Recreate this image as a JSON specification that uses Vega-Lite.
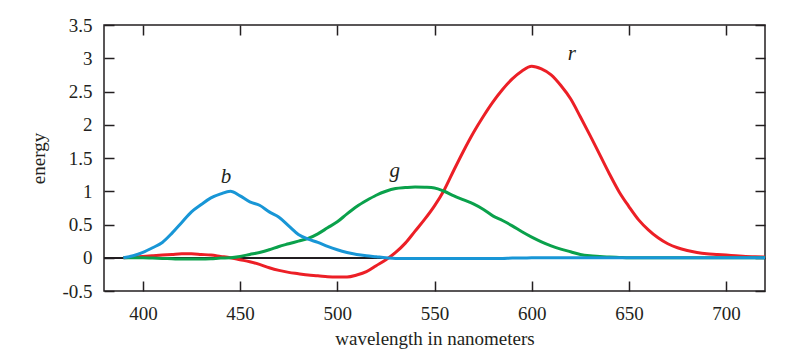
{
  "$schema": "https://vega.github.io/schema/vega-lite/v6.json",
  "width": 661,
  "height": 266,
  "autosize": "none",
  "padding": {"left": 104, "top": 25, "right": 43, "bottom": 69},
  "background": "white",
  "config": {
    "view": {"stroke": "#231f20", "strokeWidth": 1.5},
    "font": "Liberation Serif",
    "axis": {
      "labelFont": "Liberation Serif",
      "titleFont": "Liberation Serif",
      "labelFontSize": 19,
      "titleFontSize": 19,
      "titleFontWeight": "normal",
      "labelColor": "#231f20",
      "titleColor": "#231f20",
      "tickColor": "#231f20",
      "tickWidth": 1.5,
      "domain": false,
      "grid": false
    }
  },
  "datasets": {
    "curves": [
      {"w": 390, "r": 0.00, "g": 0.00, "b": 0.00},
      {"w": 395, "r": 0.01, "g": 0.00, "b": 0.03},
      {"w": 400, "r": 0.02, "g": 0.00, "b": 0.08},
      {"w": 405, "r": 0.03, "g": -0.005, "b": 0.15},
      {"w": 410, "r": 0.04, "g": -0.01, "b": 0.23},
      {"w": 415, "r": 0.05, "g": -0.015, "b": 0.37},
      {"w": 420, "r": 0.06, "g": -0.02, "b": 0.53},
      {"w": 425, "r": 0.06, "g": -0.02, "b": 0.69},
      {"w": 430, "r": 0.05, "g": -0.02, "b": 0.80},
      {"w": 435, "r": 0.04, "g": -0.015, "b": 0.90},
      {"w": 440, "r": 0.02, "g": -0.005, "b": 0.96},
      {"w": 445, "r": 0.00, "g": 0.00, "b": 1.00},
      {"w": 450, "r": -0.03, "g": 0.02, "b": 0.93},
      {"w": 455, "r": -0.06, "g": 0.05, "b": 0.84},
      {"w": 460, "r": -0.10, "g": 0.08, "b": 0.79},
      {"w": 465, "r": -0.15, "g": 0.12, "b": 0.69},
      {"w": 470, "r": -0.19, "g": 0.17, "b": 0.61},
      {"w": 475, "r": -0.22, "g": 0.21, "b": 0.48},
      {"w": 480, "r": -0.24, "g": 0.25, "b": 0.35},
      {"w": 485, "r": -0.26, "g": 0.29, "b": 0.28},
      {"w": 490, "r": -0.27, "g": 0.36, "b": 0.23},
      {"w": 495, "r": -0.285, "g": 0.45, "b": 0.17},
      {"w": 500, "r": -0.29, "g": 0.54, "b": 0.12},
      {"w": 505, "r": -0.29, "g": 0.66, "b": 0.08},
      {"w": 510, "r": -0.26, "g": 0.77, "b": 0.05},
      {"w": 515, "r": -0.21, "g": 0.86, "b": 0.03},
      {"w": 520, "r": -0.12, "g": 0.94, "b": 0.015},
      {"w": 525, "r": -0.03, "g": 1.00, "b": 0.00},
      {"w": 530, "r": 0.08, "g": 1.04, "b": -0.01},
      {"w": 535, "r": 0.22, "g": 1.055, "b": -0.01},
      {"w": 540, "r": 0.40, "g": 1.065, "b": -0.01},
      {"w": 545, "r": 0.58, "g": 1.06, "b": -0.01},
      {"w": 550, "r": 0.78, "g": 1.05, "b": -0.01},
      {"w": 555, "r": 1.02, "g": 1.00, "b": -0.01},
      {"w": 560, "r": 1.32, "g": 0.93, "b": -0.01},
      {"w": 565, "r": 1.61, "g": 0.87, "b": -0.01},
      {"w": 570, "r": 1.88, "g": 0.81, "b": -0.01},
      {"w": 575, "r": 2.12, "g": 0.73, "b": -0.01},
      {"w": 580, "r": 2.34, "g": 0.63, "b": -0.01},
      {"w": 585, "r": 2.53, "g": 0.56, "b": -0.01},
      {"w": 590, "r": 2.69, "g": 0.48, "b": -0.005},
      {"w": 595, "r": 2.81, "g": 0.39, "b": -0.005},
      {"w": 600, "r": 2.88, "g": 0.31, "b": 0.00},
      {"w": 605, "r": 2.84, "g": 0.24, "b": 0.00},
      {"w": 610, "r": 2.75, "g": 0.18, "b": 0.00},
      {"w": 615, "r": 2.59, "g": 0.13, "b": 0.00},
      {"w": 620, "r": 2.39, "g": 0.09, "b": 0.00},
      {"w": 625, "r": 2.12, "g": 0.05, "b": 0.00},
      {"w": 630, "r": 1.84, "g": 0.03, "b": 0.00},
      {"w": 635, "r": 1.55, "g": 0.02, "b": 0.00},
      {"w": 640, "r": 1.26, "g": 0.01, "b": 0.00},
      {"w": 645, "r": 0.99, "g": 0.005, "b": 0.00},
      {"w": 650, "r": 0.77, "g": 0.00, "b": 0.00},
      {"w": 655, "r": 0.57, "g": 0.00, "b": 0.00},
      {"w": 660, "r": 0.42, "g": 0.00, "b": 0.00},
      {"w": 665, "r": 0.30, "g": 0.00, "b": 0.00},
      {"w": 670, "r": 0.21, "g": 0.00, "b": 0.00},
      {"w": 675, "r": 0.15, "g": 0.00, "b": 0.00},
      {"w": 680, "r": 0.11, "g": 0.00, "b": 0.00},
      {"w": 685, "r": 0.08, "g": 0.00, "b": 0.00},
      {"w": 690, "r": 0.06, "g": 0.00, "b": 0.00},
      {"w": 695, "r": 0.05, "g": 0.00, "b": 0.00},
      {"w": 700, "r": 0.04, "g": 0.00, "b": 0.00},
      {"w": 705, "r": 0.03, "g": 0.00, "b": 0.00},
      {"w": 710, "r": 0.02, "g": 0.00, "b": 0.00},
      {"w": 715, "r": 0.015, "g": 0.00, "b": 0.00},
      {"w": 720, "r": 0.01, "g": 0.00, "b": 0.00}
    ],
    "labels": [
      {"w": 442.8, "v": 1.12, "name": "b"},
      {"w": 529.5, "v": 1.215, "name": "g"},
      {"w": 620.7, "v": 2.97, "name": "r"}
    ]
  },
  "resolve": {"axis": {"x": "independent", "y": "independent"}},
  "layer": [
    {
      "data": {"name": "curves"},
      "mark": {"type": "rule", "color": "#231f20", "strokeWidth": 1},
      "encoding": {
        "y": {"datum": 0, "type": "quantitative",
          "scale": {"domain": [-0.5, 3.5], "nice": false, "zero": false},
          "axis": {"orient": "left", "values": [-0.5, 0, 0.5, 1, 1.5, 2, 2.5, 3, 3.5], "labelExpr": "'' + datum.value", "labelFont": "Liberation Serif", "labelFontSize": 19, "tickSize": -10, "labelPadding": 22, "title": "energy", "titlePadding": 13}
        }
      }
    },
    {
      "data": {"name": "curves"},
      "transform": [{"fold": ["r", "g", "b"], "as": ["curve", "v"]}],
      "mark": {"type": "line", "strokeWidth": 3, "strokeJoin": "round", "interpolate": "monotone", "clip": true},
      "encoding": {
        "x": {"field": "w", "type": "quantitative",
          "scale": {"domain": [380, 720], "nice": false, "zero": false},
          "axis": {"orient": "bottom", "values": [400, 450, 500, 550, 600, 650, 700], "labelExpr": "'' + datum.value", "labelFont": "Liberation Serif", "labelFontSize": 19, "tickSize": -10, "labelPadding": 23, "title": "wavelength in nanometers", "titlePadding": 6}
        },
        "y": {"field": "v", "type": "quantitative", "axis": null},
        "color": {"field": "curve", "type": "nominal",
          "scale": {"domain": ["r", "g", "b"], "range": ["#ec1f26", "#0aa14b", "#1896d6"]},
          "legend": null
        }
      }
    },
    {
      "data": {"name": "labels"},
      "mark": {"type": "text", "font": "Liberation Serif", "fontStyle": "italic", "fontSize": 21, "baseline": "alphabetic", "align": "center", "color": "#231f20"},
      "encoding": {
        "x": {"field": "w", "type": "quantitative",
          "axis": {"orient": "top", "values": [400, 450, 500, 550, 600, 650, 700], "tickSize": -10, "labels": false, "title": null}
        },
        "y": {"field": "v", "type": "quantitative",
          "axis": {"orient": "right", "values": [-0.5, 0, 0.5, 1, 1.5, 2, 2.5, 3, 3.5], "tickSize": -10, "labels": false, "title": null}
        },
        "text": {"field": "name"}
      }
    }
  ]
}
